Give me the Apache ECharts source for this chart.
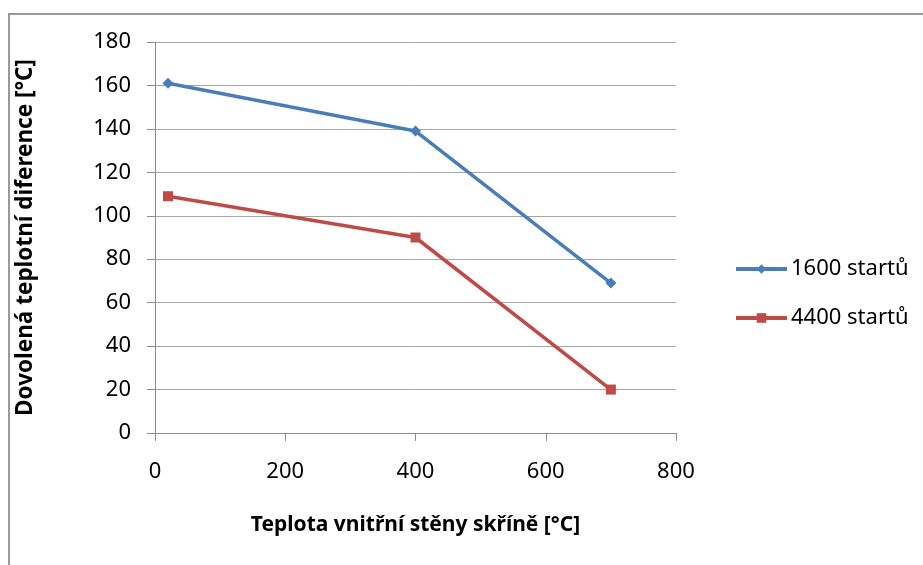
<!DOCTYPE html>
<html>
<head>
<meta charset="utf-8">
<script src="https://cdn.jsdelivr.net/npm/echarts@6/dist/echarts.min.js"></script>
<style>
html,body{margin:0;padding:0;background:#fff;}
#c{width:923px;height:565px;}
</style>
</head>
<body>
<div id="c"></div>
<script>
const xValues = [20, 400, 700];
const series1600 = [161, 139, 69];
const series4400 = [109, 90, 20];
const seriesNames = ['1600 startů', '4400 startů'];
const xTitle = 'Teplota vnitřní stěny skříně [°C]';
const yTitle = 'Dovolená teplotní diference [°C]';

const font = 'Noto Sans, Liberation Sans, sans-serif';
const chart = echarts.init(document.getElementById('c'));
chart.setOption({
  animation: false,
  backgroundColor: '#fff',
  graphic: [{
    type: 'rect',
    shape: {x: 9, y: 14, width: 1000, height: 600},
    style: {fill: 'none', stroke: '#999', lineWidth: 2},
    silent: true
  }],
  grid: {left: 155, right: 247, top: 42, bottom: 132},
  legend: {
    orient: 'vertical',
    left: 734,
    top: 258,
    padding: 0,
    itemWidth: 51,
    itemHeight: 12,
    itemGap: 27,
    lineStyle: {width: 4, color: 'inherit'},
    textStyle: {fontFamily: font, fontSize: 22, color: '#000', padding: [0, 0, 0, -1]},
    data: seriesNames
  },
  xAxis: {
    type: 'value',
    min: 0, max: 800, interval: 200,
    name: xTitle,
    nameLocation: 'middle',
    nameGap: 82,
    nameTextStyle: {fontFamily: font, fontSize: 21, fontWeight: 'bold', color: '#000'},
    axisLine: {show: true, lineStyle: {color: '#8c8c8c', width: 1}},
    axisTick: {show: true, length: 8, lineStyle: {color: '#8c8c8c'}},
    axisLabel: {fontFamily: font, fontSize: 22, color: '#000', margin: 28},
    splitLine: {show: false}
  },
  yAxis: {
    type: 'value',
    min: 0, max: 180, interval: 20,
    name: yTitle,
    nameLocation: 'middle',
    nameGap: 118,
    nameTextStyle: {fontFamily: font, fontSize: 22.5, fontWeight: 'bold', color: '#000'},
    axisLine: {show: true, lineStyle: {color: '#8c8c8c', width: 1}},
    axisTick: {show: true, length: 8, lineStyle: {color: '#8c8c8c'}},
    axisLabel: {fontFamily: font, fontSize: 22, color: '#000', margin: 24},
    splitLine: {show: true, lineStyle: {color: '#a6a6a6', width: 1}}
  },
  series: [
    {
      name: seriesNames[0],
      type: 'line',
      data: xValues.map((x, i) => [x, series1600[i]]),
      symbol: 'diamond',
      symbolSize: 11,
      color: '#4A7EBB',
      lineStyle: {width: 3.5, color: '#4A7EBB'},
      itemStyle: {color: '#4A7EBB'}
    },
    {
      name: seriesNames[1],
      type: 'line',
      data: xValues.map((x, i) => [x, series4400[i]]),
      symbol: 'rect',
      symbolSize: 10,
      color: '#BE4B48',
      lineStyle: {width: 3.5, color: '#BE4B48'},
      itemStyle: {color: '#BE4B48'}
    }
  ]
});
</script>
</body>
</html>
